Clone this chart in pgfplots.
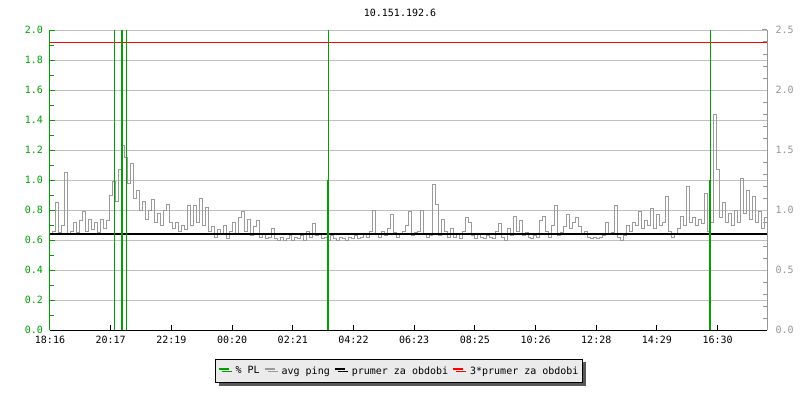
\documentclass[border=0pt]{standalone}
\usepackage{fontspec}
\setmainfont{DejaVu Sans Mono}
\usepackage{pgfplots}
\usepackage{pgfplotstable}
\pgfplotsset{compat=1.18}
\usetikzlibrary{shadows}
\definecolor{plgreen}{RGB}{0,160,0}
\definecolor{pinggray}{RGB}{155,155,155}
\definecolor{gridgray}{RGB}{192,192,192}
\definecolor{axgray}{RGB}{150,150,150}
\definecolor{leggray}{RGB}{235,235,235}
\definecolor{shadowgray}{RGB}{90,90,90}
\definecolor{limitred}{RGB}{255,0,0}

\pgfplotstableread{
t v
0 0.64
6 0.66
12 0.85
18 0.65
24 0.70
30 1.05
36 0.64
42 0.66
48 0.72
54 0.65
60 0.73
66 0.79
72 0.66
78 0.74
84 0.67
90 0.72
96 0.65
102 0.74
108 0.68
114 0.73
120 0.90
126 0.99
132 0.86
138 1.07
144 1.23
150 1.15
156 0.98
162 1.11
168 0.88
174 0.93
180 0.80
186 0.86
192 0.74
198 0.80
204 0.87
210 0.72
216 0.78
222 0.70
228 0.80
234 0.84
240 0.72
246 0.68
252 0.72
258 0.66
264 0.70
270 0.67
276 0.83
282 0.70
288 0.83
294 0.72
300 0.88
306 0.70
312 0.82
318 0.66
324 0.69
330 0.62
336 0.67
342 0.64
348 0.70
354 0.61
360 0.66
366 0.72
372 0.64
378 0.75
384 0.79
390 0.66
396 0.74
402 0.63
408 0.69
414 0.73
420 0.62
426 0.64
432 0.61
438 0.62
444 0.68
450 0.61
456 0.60
462 0.62
468 0.60
474 0.61
480 0.63
486 0.60
492 0.62
498 0.61
504 0.63
510 0.60
516 0.66
522 0.62
528 0.71
534 0.63
540 0.64
546 0.61
552 0.62
558 0.60
564 0.63
570 0.61
576 0.60
582 0.62
588 0.61
594 0.60
600 0.62
606 0.61
612 0.63
618 0.61
624 0.62
630 0.64
636 0.62
642 0.66
648 0.80
654 0.64
660 0.62
666 0.66
672 0.63
678 0.68
684 0.77
690 0.65
696 0.62
702 0.64
708 0.66
714 0.70
720 0.79
726 0.63
732 0.65
738 0.66
744 0.80
750 0.64
756 0.62
762 0.63
768 0.97
774 0.84
780 0.63
786 0.74
792 0.66
798 0.62
804 0.68
810 0.62
816 0.64
822 0.61
828 0.66
834 0.75
840 0.72
846 0.63
852 0.61
858 0.64
864 0.62
870 0.61
876 0.63
882 0.62
888 0.61
894 0.66
900 0.71
906 0.62
912 0.60
918 0.68
924 0.63
930 0.76
936 0.66
942 0.73
948 0.63
954 0.65
960 0.62
966 0.61
972 0.63
978 0.62
984 0.73
990 0.76
996 0.66
1002 0.62
1008 0.70
1014 0.83
1020 0.63
1026 0.65
1032 0.69
1038 0.77
1044 0.68
1050 0.72
1056 0.75
1062 0.69
1068 0.64
1074 0.66
1080 0.62
1086 0.61
1092 0.62
1098 0.61
1104 0.62
1110 0.63
1116 0.72
1122 0.64
1128 0.65
1134 0.83
1140 0.62
1146 0.60
1152 0.63
1158 0.70
1164 0.66
1170 0.72
1176 0.70
1182 0.79
1188 0.68
1194 0.73
1200 0.70
1206 0.81
1212 0.68
1218 0.77
1224 0.70
1230 0.72
1236 0.89
1242 0.66
1248 0.62
1254 0.64
1260 0.68
1266 0.76
1272 0.70
1278 0.96
1284 0.72
1290 0.75
1296 0.70
1302 0.74
1308 0.71
1314 0.91
1320 0.66
1326 0.72
1332 1.44
1338 1.07
1344 0.75
1350 0.85
1356 0.72
1362 0.78
1368 0.70
1374 0.80
1380 0.72
1386 1.01
1392 0.78
1398 0.93
1404 0.74
1410 0.89
1416 0.72
1422 0.79
1428 0.68
1434 0.75
1440 0.79
}\pingtable

\begin{document}
\begin{tikzpicture}[x=1pt,y=1pt]
\fill[white] (0,0) rectangle (800,400);
\path[use as bounding box] (0,0) rectangle (800,400);
\node[font=\fontsize{10}{12}\selectfont] at (400,387) {10.151.192.6};

% right axis
\begin{axis}[
  at={(50pt,70pt)}, anchor=south west,
  scale only axis, width=717pt, height=300pt,
  xmin=0, xmax=1440, ymin=0, ymax=2.5,
  axis x line=none, axis y line*=right,
  y axis line style={-, axgray, line width=1pt},
  ytick={0,0.5,1,1.5,2,2.5},
  minor y tick num=4,
  y tick style={axgray, line width=1pt},
  major tick length=5pt, minor tick length=4pt,
  tick align=inside,
  yticklabel={\pgfmathprintnumber[fixed,fixed zerofill,precision=1,assume math mode=true]{\tick}},
  yticklabel style={axgray, font=\fontsize{10}{12}\selectfont, xshift=5pt},
]
\addplot[draw=none] coordinates {(0,0) (1440,2.5)};
\end{axis}

% main axis
\begin{axis}[
  at={(50pt,70pt)}, anchor=south west,
  scale only axis, width=717pt, height=300pt,
  xmin=0, xmax=1440, ymin=0, ymax=2,
  axis x line*=bottom, axis y line*=left,
  x axis line style={-, black, line width=1pt},
  y axis line style={-, plgreen, line width=1pt},
  xtick={0,121.9,243.8,365.7,487.6,609.5,731.4,853.3,975.2,1097.1,1219.0,1340.9},
  xticklabels={18:16,20:17,22:19,00:20,02:21,04:22,06:23,08:25,10:26,12:28,14:29,16:30},
  ytick={0,0.2,...,2.01},
  minor y tick num=1,
  tick align=inside,
  major tick length=5pt, minor tick length=4pt,
  x tick style={black, line width=1pt},
  y tick style={plgreen, line width=1pt},
  ymajorgrids,
  major grid style={gridgray, line width=1pt},
  yticklabel={\pgfmathprintnumber[fixed,fixed zerofill,precision=1,assume math mode=true]{\tick}},
  yticklabel style={plgreen, font=\fontsize{10}{12}\selectfont, xshift=-3.5pt},
  xticklabel style={black, font=\fontsize{10}{12}\selectfont, yshift=-3pt},
  clip=true,
  legend columns=-1,
  legend style={
    at={(0.4868,-0.1367)}, anchor=center,
    draw=black, line width=0.8pt, fill=leggray,
    font=\fontsize{10}{12}\selectfont,
    inner xsep=2pt, inner ysep=5pt,
    drop shadow={shadow xshift=3pt, shadow yshift=-3pt, fill=shadowgray, opacity=1},
    /tikz/every odd column/.append style={column sep=4pt},
    /tikz/every even column/.append style={column sep=2pt},
  },
  legend image code/.code={\draw[#1, line width=2pt] (0pt,2.5pt) -- (10pt,2.5pt);},
]
\addlegendimage{draw=plgreen}
\addlegendentry{\% PL}
\addlegendimage{draw=pinggray}
\addlegendentry{avg ping}
\addlegendimage{draw=black}
\addlegendentry{prumer za obdobi}
\addlegendimage{draw=limitred}
\addlegendentry{3*prumer za obdobi}

\addplot[forget plot, const plot, draw=pinggray, line width=1pt, mark=none] table[x=t, y=v] {\pingtable};
\addplot[forget plot, draw=black, line width=2.2pt, mark=none] coordinates {(0,0.64) (1440,0.64)};
\addplot[forget plot, draw=limitred, line width=1pt, mark=none] coordinates {(0,1.92) (1440,1.92)};
\addplot[forget plot, ycomb, draw=plgreen, line width=1.1pt, mark=none] coordinates {(130.1,5) (153.6,5) (559,5) (1326,5)};
\addplot[forget plot, ycomb, draw=plgreen, line width=2.3pt, mark=none] coordinates {(144.2,5)};
\addplot[forget plot, ycomb, draw=plgreen, line width=2.3pt, mark=none] coordinates {(558,1.0) (1325,1.0)};
\end{axis}
\end{tikzpicture}
\end{document}
